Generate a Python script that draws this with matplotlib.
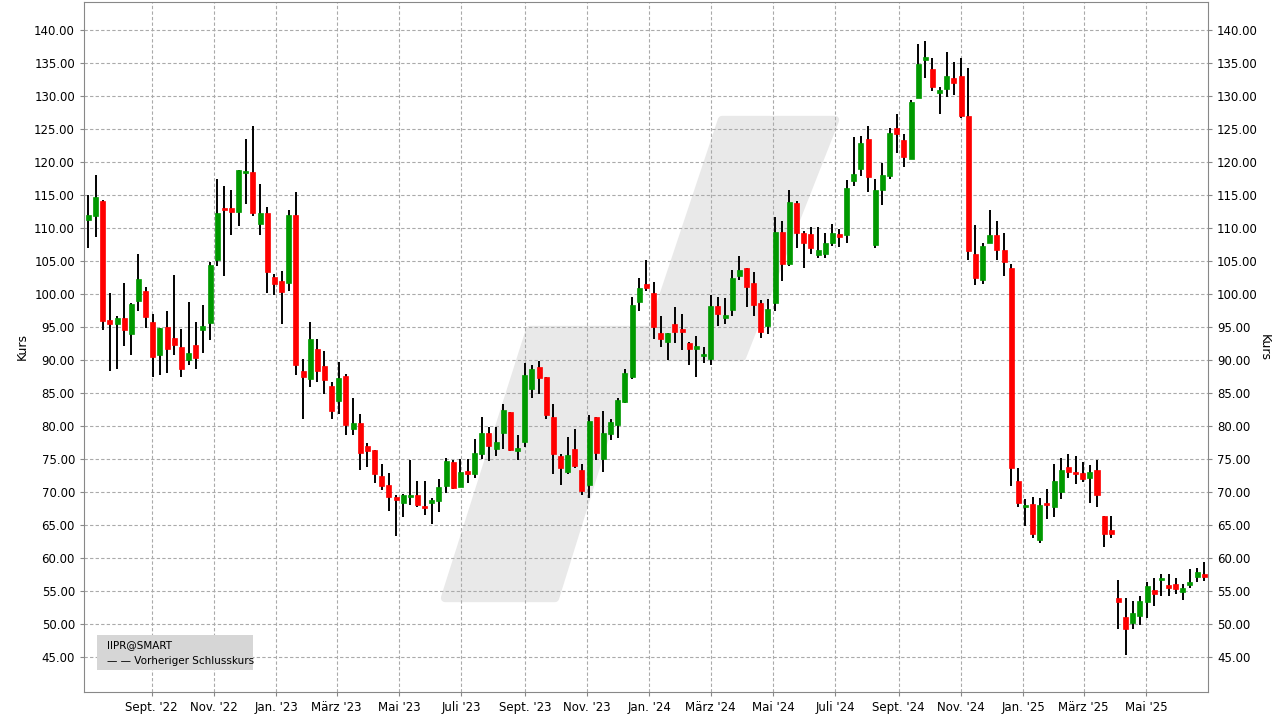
import matplotlib
matplotlib.use("Agg")
import matplotlib.pyplot as plt
import matplotlib.dates as mdates
from matplotlib.patches import Polygon, Rectangle
import numpy as np
import pandas as pd

start_date = "2022-07-01"
opens = [111.2,111.8,114.1,96.1,95.4,96.4,93.9,98.9,100.4,95.8,90.7,95.0,93.4,92.0,90.0,92.3,94.5,95.6,105.1,113.0,
         113.0,112.4,118.3,118.5,110.6,112.3,102.6,102.0,101.6,112.0,88.4,87.1,91.7,89.1,86.1,83.8,87.6,79.6,80.5,77.0,
         76.4,72.5,71.0,69.2,68.3,69.2,69.6,67.9,68.3,68.6,70.9,74.6,70.7,73.2,72.7,75.8,79.0,76.5,79.0,82.1,
         76.2,77.6,85.6,88.9,87.4,81.3,75.4,73.0,76.5,73.4,71.1,81.3,75.0,78.8,80.2,83.6,87.5,98.8,101.5,100.1,
         94.1,92.8,95.4,94.6,92.6,91.7,90.6,90.2,98.2,96.4,97.6,102.8,104.0,101.6,98.7,95.1,98.7,109.4,104.6,113.8,
         109.3,109.1,105.9,106.0,107.8,109.0,109.0,117.1,119.0,123.5,107.5,115.8,117.9,125.2,123.4,120.5,129.7,135.5,134.1,130.5,
         131.0,132.8,133.1,127.0,106.0,102.1,107.8,109.0,106.7,104.0,71.7,67.7,68.2,62.8,68.4,67.7,70.0,73.8,72.9,72.9,
         72.1,73.4,66.4,64.3,54.0,51.0,50.1,51.2,53.4,55.2,56.6,55.8,56.1,54.9,55.9,57.1,57.6]
highs = [115.0,118.1,114.2,100.1,96.6,101.6,98.6,106.0,101.0,97.0,94.9,97.5,102.9,94.7,98.8,95.8,98.4,104.9,117.5,116.4,
         115.8,118.8,123.5,125.4,116.7,113.2,103.1,103.5,112.8,115.5,90.1,95.8,93.2,91.3,86.6,89.7,87.9,84.3,81.8,77.4,
         76.4,74.3,72.9,69.5,69.7,74.9,71.7,71.7,69.1,72.0,75.2,74.8,75.0,75.0,78.1,81.3,79.8,79.8,83.3,82.1,
         78.7,89.6,89.3,89.9,87.4,83.3,75.8,78.3,79.5,74.3,81.6,81.3,82.2,81.0,84.3,88.7,99.5,102.5,105.1,101.8,
         96.7,94.1,98.1,96.9,92.8,93.7,91.9,99.8,99.5,99.4,103.6,105.8,104.0,103.4,99.1,99.3,111.7,111.1,115.8,114.1,
         109.6,110.1,110.1,109.3,110.6,109.9,117.3,123.8,123.9,125.5,117.5,119.9,125.1,127.3,124.3,129.4,137.9,138.4,135.8,131.4,
         136.7,135.2,135.8,134.3,110.4,107.8,112.8,111.1,109.3,104.6,73.7,69.0,69.3,69.1,70.5,74.3,75.2,75.7,75.4,74.6,
         74.1,74.9,66.4,66.3,56.7,54.0,53.5,54.3,56.3,57.0,57.6,57.6,57.0,56.0,58.4,58.5,59.4]
lows = [106.9,108.6,94.5,88.3,88.7,92.1,90.7,97.5,94.9,87.4,87.7,88.1,90.7,87.5,89.3,88.6,91.0,93.0,104.2,102.7,
        108.9,110.3,113.7,111.8,109.0,100.1,99.9,95.4,100.4,87.7,81.0,85.9,86.6,84.8,81.1,81.8,78.7,78.6,73.3,73.8,
        71.4,70.3,67.1,63.3,66.2,68.0,67.7,66.5,65.1,66.9,69.9,70.4,70.7,71.4,72.1,75.0,74.7,75.4,76.5,76.2,
        74.8,76.8,84.2,84.8,81.1,72.7,71.1,72.7,73.7,69.5,69.1,74.8,73.0,77.9,78.2,83.5,87.1,97.5,100.4,93.2,
        92.0,90.0,92.6,91.5,89.3,87.5,89.5,89.2,95.2,95.5,96.6,102.1,98.1,96.7,93.4,94.0,97.4,101.9,104.2,106.9,
        104.0,106.0,105.4,105.4,107.2,107.1,107.8,116.3,117.9,115.5,106.9,113.5,117.5,121.4,119.3,120.5,129.7,132.8,130.7,127.2,
        129.9,130.2,126.6,105.1,101.3,101.5,107.8,105.1,102.7,70.9,67.7,64.8,63.0,62.2,65.9,66.2,68.9,72.1,71.2,71.5,
        68.4,67.7,61.6,63.1,49.3,45.3,49.3,49.8,50.9,52.7,54.3,54.2,54.5,53.6,55.4,56.3,56.5]
closes = [112.0,114.7,95.9,95.4,96.4,94.5,98.5,102.2,96.5,90.4,94.9,91.6,92.2,88.6,91.1,90.3,95.2,104.4,112.2,112.7,
          112.4,118.8,118.7,112.2,112.2,103.3,101.5,100.3,112.0,89.2,87.5,93.2,88.4,86.9,82.2,87.3,80.1,80.4,75.9,76.2,
          72.8,70.9,69.2,68.8,69.5,69.5,68.0,67.5,68.8,70.7,74.7,70.6,73.1,72.8,75.9,79.0,77.0,77.6,82.4,76.3,
          76.6,87.8,88.7,87.3,81.7,75.8,73.6,75.6,73.9,70.2,80.7,75.9,78.9,80.6,84.0,88.0,98.4,100.9,100.9,95.0,
          93.2,94.1,94.3,94.3,91.6,92.0,90.9,98.2,96.9,96.7,102.5,103.6,101.0,98.4,94.3,97.8,109.4,104.5,114.0,109.3,
          107.8,106.9,106.6,107.8,109.3,108.7,116.1,118.2,122.9,117.8,115.8,118.1,124.4,124.3,120.7,129.1,134.9,135.8,131.4,130.8,
          133.1,131.9,127.0,106.5,102.4,107.2,109.0,106.7,104.8,73.7,68.3,68.1,63.6,68.1,68.0,71.6,73.4,73.1,72.7,71.9,
          73.1,69.6,63.6,63.7,53.4,49.3,51.6,53.5,55.8,54.6,56.9,55.5,55.3,55.4,56.3,57.9,57.1]

month_labels = {9: "Sept.", 11: "Nov.", 1: "Jan.", 3: "März", 5: "Mai", 7: "Juli"}
ytick_values = list(range(45, 141, 5))

dates = pd.date_range(start_date, periods=len(opens), freq="7D")
xd = mdates.date2num(dates)

W, H = 1279, 719
fig = plt.figure(figsize=(W/100, H/100), dpi=100)
L, R, T, B = 84, 1208, 2, 692
ax = fig.add_axes([L/W, 1-B/H, (R-L)/W, (B-T)/H])
ymin = 140 - (B-30)/6.6
ymax = 140 + (30-T)/6.6
ax.set_ylim(ymin, ymax)
ax.set_xlim(xd[0]-7.2*(88.3-L)/7.15, xd[-1]+7.0*(R-1204.3)/7.15)

def px2data(px, py):
    x0, x1 = ax.get_xlim()
    xv = x0 + (px-L)/(R-L)*(x1-x0)
    yv = 140 - (py-30)/6.6
    return (xv, yv)
poly = [(445,598),(555,598),(630,357),(742,357),(835,120),(722,120),(652,330),(530,330)]
ax.add_patch(Polygon([px2data(*p) for p in poly], closed=True, facecolor="#e9e9e9",
                     edgecolor="#e9e9e9", linewidth=6, joinstyle="round", zorder=0))

ax.grid(True, color="#aaaaaa", linestyle=(0, (3, 2)), linewidth=0.8, zorder=1)
ax.set_axisbelow(True)

bw = 4.9
for x, o, h, l, c in zip(xd, opens, highs, lows, closes):
    col = "#009900" if c >= o else "#ff0000"
    ax.vlines(x, l, h, color="black", linewidth=1.4, zorder=2)
    lo, hi = min(o, c), max(o, c)
    ax.add_patch(Rectangle((x-bw/2, lo), bw, max(hi-lo, 0.35), facecolor=col, edgecolor=col,
                           linewidth=0.5, zorder=3))

ticks = pd.date_range("2022-09-01", "2025-06-01", freq="2MS")
ax.set_xticks(mdates.date2num(ticks))
ax.set_xticklabels([f"{month_labels[t.month]} '{t.strftime('%y')}" for t in ticks], fontsize=8.5)
ax.set_yticks(ytick_values)
ax.set_yticklabels([f"{v:.2f}" for v in ytick_values], fontsize=8.5)
ax.tick_params(axis="y", which="both", right=True, labelright=True, length=3, color="#888888")
ax.tick_params(axis="x", length=3, color="#888888")
ax.set_ylabel("Kurs", fontsize=9)
fig.text(1264/W, 1-347/H, "Kurs", fontsize=9, rotation=270, ha="center", va="center")
for s in ax.spines.values():
    s.set_color("#888888")

fig.patches.append(Rectangle((97/W, 1-670/H), 156/W, 35/H, transform=fig.transFigure,
                             facecolor="#d6d6d6", edgecolor="none", zorder=5))
fig.text(107/W, 1-645/H, "IIPR@SMART", fontsize=7.5, va="center", zorder=6)
fig.text(107/W, 1-661/H, "— — Vorheriger Schlusskurs", fontsize=7.5, va="center", zorder=6)

fig.savefig("out.png", dpi=100)
